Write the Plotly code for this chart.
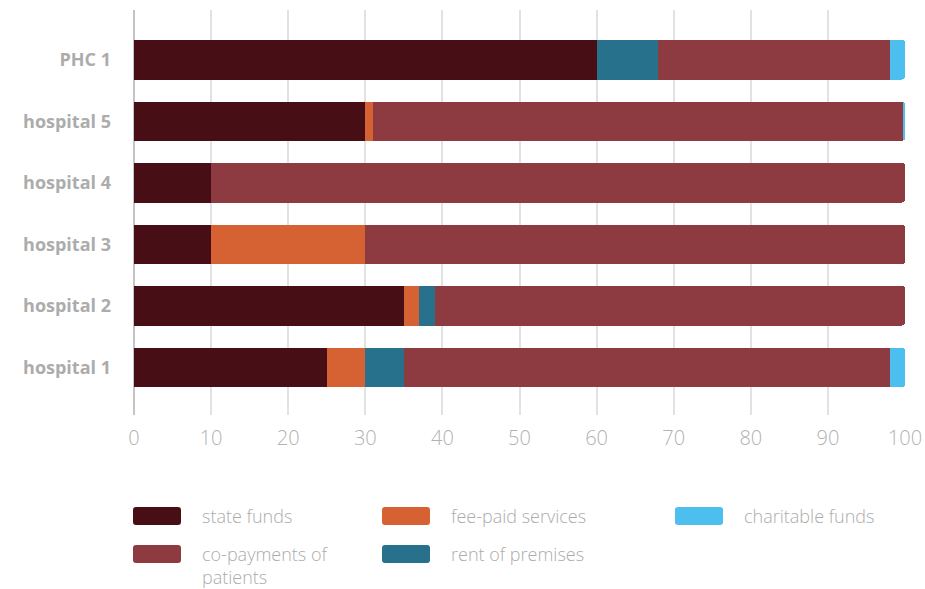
import plotly.graph_objects as go

# Funding structure by facility, % of total
categories = ["hospital 1", "hospital 2", "hospital 3", "hospital 4", "hospital 5", "PHC 1"]
state_funds = [25, 35, 10, 10, 30, 60]
fee_paid_services = [5, 2, 20, 0, 1, 0]
rent_of_premises = [5, 2, 0, 0, 0, 8]
co_payments = [63, 61, 70, 90, 68.7, 30]
charitable_funds = [2, 0, 0, 0, 0.3, 2]
x_ticks = [0, 10, 20, 30, 40, 50, 60, 70, 80, 90, 100]

series = [
    ("state funds", state_funds, "#470f15"),
    ("fee-paid services", fee_paid_services, "#d66132"),
    ("rent of premises", rent_of_premises, "#28718d"),
    ("co-payments of patients", co_payments, "#8e3a41"),
    ("charitable funds", charitable_funds, "#4dbfef"),
]

W, H = 925, 589
L, R, T, B = 134, 20, 10, 174
PW, PH = W - L - R, H - T - B

fig = go.Figure()
for name, vals, color in series:
    fig.add_trace(go.Bar(
        y=categories, x=vals, name=name, orientation="h",
        marker=dict(color=color, line=dict(width=0)),
        showlegend=False, hoverinfo="x+name",
    ))

TEXT_GREY = "#acacac"
FONT = "Open Sans"


def px_x(px):
    return (px - L) / PW


def px_y(py):
    return (H - B - py) / PH


def rounded_rect(x0, y0, x1, y1, r=3):
    # pixel box -> paper-space path with rounded corners
    ax0, ax1 = px_x(x0), px_x(x1)
    ay0, ay1 = px_y(y0), px_y(y1)  # ay0 is top
    rx, ry = r / PW, r / PH
    return (f"M{ax0 + rx},{ay0} L{ax1 - rx},{ay0} Q{ax1},{ay0} {ax1},{ay0 - ry} "
            f"L{ax1},{ay1 + ry} Q{ax1},{ay1} {ax1 - rx},{ay1} "
            f"L{ax0 + rx},{ay1} Q{ax0},{ay1} {ax0},{ay1 + ry} "
            f"L{ax0},{ay0 - ry} Q{ax0},{ay0} {ax0 + rx},{ay0} Z")


# Custom legend: three columns, two rows
legend_slots = {
    "state funds": (133, 507),
    "fee-paid services": (382, 507),
    "charitable funds": (675, 507),
    "co-payments of patients": (133, 545),
    "rent of premises": (382, 545),
}
legend_labels = {"co-payments of patients": "co-payments of<br>patients"}
for name, vals, color in series:
    sx, sy = legend_slots[name]
    fig.add_shape(type="path", xref="paper", yref="paper",
                  path=rounded_rect(sx, sy, sx + 48, sy + 18),
                  fillcolor=color, line=dict(width=0))
    fig.add_annotation(
        xref="paper", yref="paper", x=px_x(sx + 67), y=px_y(sy - 5),
        text=legend_labels.get(name, name), showarrow=False,
        xanchor="left", yanchor="top", align="left",
        font=dict(family=FONT, size=18, color=TEXT_GREY, weight=300),
    )

fig.update_layout(
    width=W, height=H,
    margin=dict(l=L, r=R, t=T, b=B, autoexpand=False),
    barmode="stack", bargap=0.358, barcornerradius=3,
    plot_bgcolor="white", paper_bgcolor="white",
    xaxis=dict(
        range=[0, 100], tickvals=x_ticks, ticks="", automargin=False,
        showgrid=True, gridcolor="#e2e2e2", gridwidth=1.5,
        zeroline=True, zerolinecolor="#c4c4c4", zerolinewidth=2,
        tickfont=dict(family=FONT, size=20, color="#b2b2b2", weight=300),
        ticklabelstandoff=9, fixedrange=True,
    ),
    yaxis=dict(
        categoryorder="array", categoryarray=categories, automargin=False,
        range=[-0.776, 5.809], showgrid=False, ticks="",
        tickfont=dict(family=FONT, size=18, color=TEXT_GREY, weight="bold"),
        ticklabelstandoff=22, fixedrange=True,
    ),
)

fig.write_html("out.html")
